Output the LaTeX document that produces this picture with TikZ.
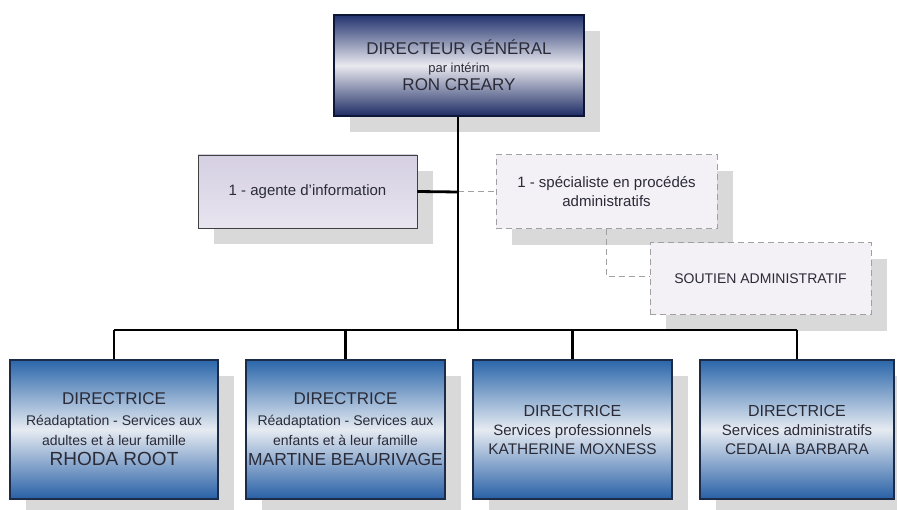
\documentclass[tikz,border=0pt]{standalone}
\usepackage{fontspec}
\setmainfont{Liberation Sans}
\usetikzlibrary{shadows}
\definecolor{navytop}{HTML}{22336E}
\definecolor{navymid}{HTML}{E9E9EF}
\definecolor{navybot}{HTML}{1D2C64}
\definecolor{topborder}{HTML}{0E1638}
\definecolor{bluetop}{HTML}{2A66AA}
\definecolor{bluemid}{HTML}{E6EBF2}
\definecolor{bluebot}{HTML}{2860A6}
\definecolor{blueborder}{HTML}{1B2B48}
\definecolor{shadowgray}{HTML}{D9D9D9}
\definecolor{lavtop}{HTML}{D5CFE2}
\definecolor{lavbot}{HTML}{E8E4EF}
\definecolor{palefill}{HTML}{F3F0F6}
\definecolor{dashgray}{HTML}{A0A0A0}
\definecolor{textc}{HTML}{2B2B38}
\newcommand{\fs}[2]{\fontsize{#1}{#2}\selectfont}
\begin{document}
\begin{tikzpicture}[x=1pt,y=-1pt,
  shad/.style={drop shadow={shadow xshift=16pt,shadow yshift=-16pt,fill=shadowgray,opacity=1}},
  basebox/.style={inner sep=0pt, align=center, text=textc},
  topbox/.style={basebox, shad, draw=topborder, line width=2.5pt,
     top color=navytop, bottom color=navybot, middle color=navymid,
     font=\fs{17}{18}},
  dirbox/.style={basebox, shad, draw=blueborder, line width=1.3pt,
     top color=bluetop, bottom color=bluebot, middle color=bluemid,
     minimum width=#1, minimum height=139pt},
  dirfour/.style={font=\fs{14}{20.3}},
  dirthree/.style={font=\fs{15}{19}},
  agentbox/.style={basebox, shad, draw=black!75, line width=0.9pt,
     top color=lavtop, bottom color=lavbot, font=\fs{15}{19}},
  dashbox/.style={basebox, shad, draw=dashgray, dash pattern=on 6pt off 4pt, line width=1pt,
     fill=palefill, font=\fs{15}{19}},
  link/.style={line width=2.8pt, black},
  dlink/.style={line width=1pt, dashgray, dash pattern=on 6pt off 4pt}
]
\useasboundingbox (0,0) rectangle (897,510);

% top box
\node[topbox, minimum width=250pt, minimum height=101pt] (dg) at (459,65.5)
  {DIRECTEUR GÉNÉRAL\\{\fs{13}{16}par intérim}\\RON CREARY};

% staff boxes
\node[agentbox, minimum width=219pt, minimum height=73pt] (ag) at (307.5,191.5)
  {1 - agente d’information};
\node[dashbox, minimum width=221pt, minimum height=74pt] (sp) at (606.5,192)
  {1 - spécialiste en procédés\\administratifs};
\node[dashbox, font=\fs{14}{17}, minimum width=221pt, minimum height=72pt] (sa) at (760.5,279)
  {SOUTIEN ADMINISTRATIF};

% director boxes
\node[dirbox=208pt, dirfour] (d1) at (114,429.5)
  {{\fs{17}{20}DIRECTRICE}\\
   Réadaptation - Services aux\\
   adultes et à leur famille\\
   {\fs{19}{21}RHODA ROOT}};
\node[dirbox=199pt, dirfour] (d2) at (345.5,429.5)
  {{\fs{17}{20}DIRECTRICE}\\
   Réadaptation - Services aux\\
   enfants et à leur famille\\
   {\fs{17.4}{20}MARTINE BEAURIVAGE}};
\node[dirbox=199pt, dirthree] (d3) at (572.5,429.5)
  {{\fs{16}{19}DIRECTRICE}\\
   Services professionnels\\
   {\fs{15.4}{19}KATHERINE MOXNESS}};
\node[dirbox=194pt, dirthree] (d4) at (797,429.5)
  {{\fs{16}{19}DIRECTRICE}\\
   Services administratifs\\
   {\fs{15.4}{19}CEDALIA BARBARA}};

% connectors
\coordinate (bus) at (458,330);
\coordinate (j) at (458,192);
\coordinate (k) at (606,277);
\draw[dlink] (j) -- (sp.west);
\draw[dlink] (sp.south -| k) -- (k) -- (sa.west |- k);
\draw[link] (dg.south -| bus) -- (bus);
\draw[link] (ag.east) -- (j);
\draw[link] (d1.north |- bus) -- (d4.north |- bus);
\draw[link] (d1.north |- bus) -- (d1.north);
\draw[link] (d2.north |- bus) -- (d2.north);
\draw[link] (d3.north |- bus) -- (d3.north);
\draw[link] (d4.north |- bus) -- (d4.north);
\end{tikzpicture}
\end{document}
